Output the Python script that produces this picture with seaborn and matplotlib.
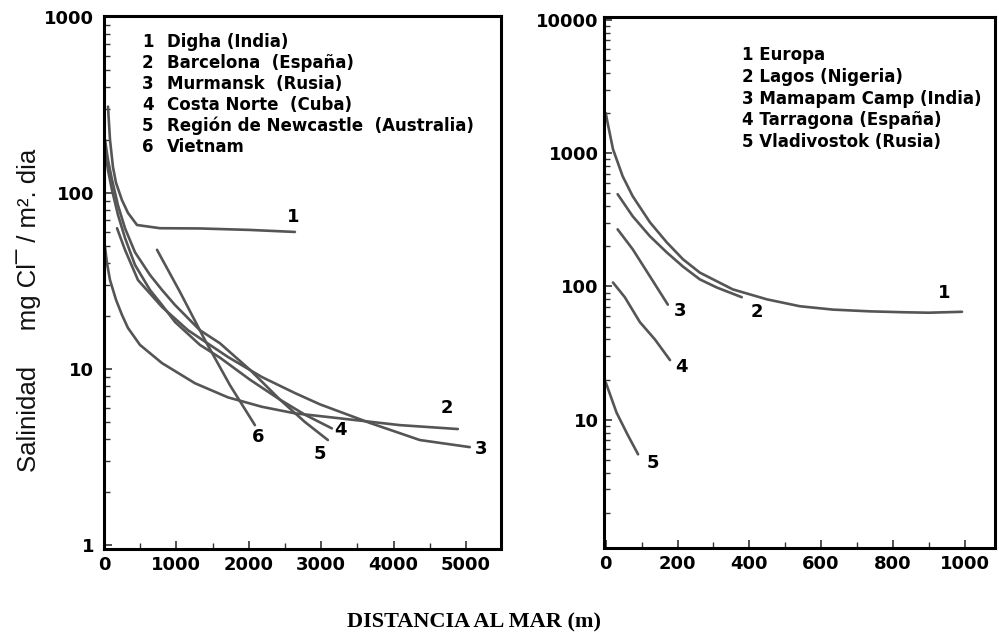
import numpy as np
import pandas as pd
import seaborn as sns
import matplotlib.pyplot as plt
from matplotlib.ticker import FixedLocator, NullFormatter, LogLocator

sns.set_theme(style="ticks")
plt.rcParams['font.family'] = ['DejaVu Sans']
plt.rcParams['text.color'] = 'black'
plt.rcParams['xtick.color'] = 'black'
plt.rcParams['ytick.color'] = 'black'
plt.rcParams['axes.labelcolor'] = 'black'

# --- panel izquierdo: distancia (m) / salinidad (mg Cl / m2 dia)
izq_nombres = ['Digha (India)', 'Barcelona  (España)', 'Murmansk  (Rusia)',
               'Costa Norte  (Cuba)', 'Región de Newcastle  (Australia)', 'Vietnam']
digha_x = [55, 83, 124, 166, 248, 331, 456, 773, 1325, 2015, 2637]
digha_y = [309, 200, 140, 114, 91, 77, 65.7, 63.0, 62.8, 61.6, 60]
barcelona_x = [14, 41, 83, 166, 248, 331, 497, 801, 1256, 1712, 2181, 2637, 3161, 4086, 4887]
barcelona_y = [49, 40, 32, 24.7, 20.3, 17.1, 13.7, 10.8, 8.3, 6.9, 6.1, 5.6, 5.3, 4.8, 4.56]
murmansk_x = [180, 290, 469, 801, 1160, 1712, 2181, 2637, 2982, 3672, 4362, 5052]
murmansk_y = [63, 47.5, 32, 22.5, 16.6, 11.7, 9.0, 7.3, 6.3, 4.94, 3.95, 3.6]
cuba_x = [14, 55, 110, 193, 290, 428, 635, 801, 980, 1325, 1601, 2015, 2430, 2775, 3147]
cuba_y = [175, 135, 104, 75, 55.5, 39, 28.1, 23.1, 18.5, 13.7, 11.6, 8.7, 6.7, 5.5, 4.6]
newcastle_x = [14, 55, 110, 193, 290, 428, 635, 801, 980, 1325, 1601, 2015, 2430, 2775, 3092]
newcastle_y = [200, 154, 119, 85, 63, 46, 34.2, 28.1, 23.1, 16.6, 14, 9.9, 6.7, 5.0, 3.95]
vietnam_x = [732, 1049, 1394, 1739, 2084]
vietnam_y = [47.5, 27.4, 14.6, 8.1, 4.8]
izq_etiq_x = [2609, 4735, 5204, 3272, 2982, 2126]
izq_etiq_y = [73, 6.0, 3.5, 4.5, 3.29, 4.1]

# --- panel derecho
der_nombres = ['Europa', 'Lagos (Nigeria)', 'Mamapam Camp (India)',
               'Tarragona (España)', 'Vladivostok (Rusia)']
europa_x = [0, 3, 20, 47, 75, 123, 170, 215, 262, 354, 449, 541, 633, 736, 830, 900, 993]
europa_y = [2000, 1800, 1072, 671, 475, 303, 214, 160, 127, 95, 80, 71, 67, 65, 64, 63.5, 64.5]
lagos_x = [33, 75, 123, 170, 215, 262, 310, 379]
lagos_y = [492, 336, 238, 180, 141, 113, 98, 83]
mamapam_x = [33, 75, 123, 173]
mamapam_y = [268, 190, 119, 73]
tarragona_x = [20, 53, 95, 137, 179]
tarragona_y = [107, 83, 54, 40, 28]
vladivostok_x = [0, 30, 61, 90]
vladivostok_y = [19, 11.3, 7.7, 5.5]
der_etiq_x = [943, 421, 206, 212, 131]
der_etiq_y = [90, 64, 65, 25, 4.75]


def largo(xs, ys):
    partes = []
    for i, (x, y) in enumerate(zip(xs, ys)):
        partes.append(pd.DataFrame({'distancia': x, 'salinidad': y, 'curva': i + 1}))
    return pd.concat(partes, ignore_index=True)


df_izq = largo([digha_x, barcelona_x, murmansk_x, cuba_x, newcastle_x, vietnam_x],
               [digha_y, barcelona_y, murmansk_y, cuba_y, newcastle_y, vietnam_y])
df_der = largo([europa_x, lagos_x, mamapam_x, tarragona_x, vladivostok_x],
               [europa_y, lagos_y, mamapam_y, tarragona_y, vladivostok_y])

fig = plt.figure(figsize=(9.99, 6.35), dpi=100)
ax1 = fig.add_axes([0.1041, 0.1354, 0.3974, 0.8394])
ax2 = fig.add_axes([0.6046, 0.1370, 0.3914, 0.8362])

gris = '#555555'
for ax, df in [(ax1, df_izq), (ax2, df_der)]:
    sns.lineplot(data=df, x='distancia', y='salinidad', units='curva',
                 estimator=None, sort=False, color=gris, lw=1.9, ax=ax)
    ax.set_yscale('log')
    ax.set_xlabel('')
    ax.set_ylabel('')
    for s in ax.spines.values():
        s.set_linewidth(2.2)
        s.set_color('black')
        s.set_visible(True)
    ax.tick_params(which='both', direction='in', top=False, right=False,
                   color='#333333', labelsize=13)
    ax.tick_params(which='major', length=6, width=1.2)
    ax.tick_params(which='minor', length=4, width=1.0)
    ax.yaxis.set_minor_locator(LogLocator(base=10, subs=np.arange(2, 10)))
    ax.yaxis.set_minor_formatter(NullFormatter())

# panel izquierdo
ax1.set_xlim(0, 5483)
ax1.set_ylim(0.95, 1010)
ax1.xaxis.set_major_locator(FixedLocator([0, 1000, 2000, 3000, 4000, 5000]))
ax1.xaxis.set_minor_locator(FixedLocator([500, 1500, 2500, 3500, 4500]))
ax1.set_xticklabels(['0', '1000', '2000', '3000', '4000', '5000'], fontweight='bold')
ax1.yaxis.set_major_locator(FixedLocator([1, 10, 100, 1000]))
ax1.set_yticklabels(['1', '10', '100', '1000'], fontweight='bold')
ax1.tick_params(axis='y', pad=7)
ax1.tick_params(axis='x', pad=5)

for i, nombre in enumerate(izq_nombres):
    yy = 0.951 - i * 0.0394
    ax1.text(0.096, yy, str(i + 1), transform=ax1.transAxes, fontsize=12,
             fontweight='bold', ha='left', va='center')
    ax1.text(0.159, yy, nombre, transform=ax1.transAxes, fontsize=12,
             fontweight='bold', ha='left', va='center')
for i, (x, y) in enumerate(zip(izq_etiq_x, izq_etiq_y)):
    ax1.text(x, y, str(i + 1), fontsize=13, fontweight='bold', ha='center', va='center')

# panel derecho
ax2.set_xlim(-5, 1085)
ax2.set_ylim(1.09, 10500)
ax2.xaxis.set_major_locator(FixedLocator([0, 200, 400, 600, 800, 1000]))
ax2.xaxis.set_minor_locator(FixedLocator([100, 300, 500, 700, 900]))
ax2.set_xticklabels(['0', '200', '400', '600', '800', '1000'], fontweight='bold')
ax2.yaxis.set_major_locator(FixedLocator([10, 100, 1000, 10000]))
ax2.set_yticklabels(['10', '100', '1000', '10000'], fontweight='bold')
ax2.tick_params(axis='y', pad=4)
ax2.tick_params(axis='x', pad=5)

for i, nombre in enumerate(der_nombres):
    yy = 0.928 - i * 0.0409
    ax2.text(0.353, yy, f'{i + 1} {nombre}', transform=ax2.transAxes, fontsize=12,
             fontweight='bold', ha='left', va='center')
for i, (x, y) in enumerate(zip(der_etiq_x, der_etiq_y)):
    ax2.text(x, y, str(i + 1), fontsize=13, fontweight='bold', ha='center', va='center')

fig.text(0.029, 1 - 310 / 635, 'Salinidad     mg Cl\u00af / m\u00b2. dia', rotation=90,
         fontsize=18.5, family=['Liberation Sans', 'DejaVu Sans'], color='#111111',
         ha='center', va='center')
fig.text(474 / 999, 1 - 622 / 635, 'DISTANCIA AL MAR (m)', fontsize=16,
         fontweight='bold', family=['Liberation Serif', 'DejaVu Serif'],
         ha='center', va='center')

fig.savefig('out.png', dpi=100, facecolor='white')
